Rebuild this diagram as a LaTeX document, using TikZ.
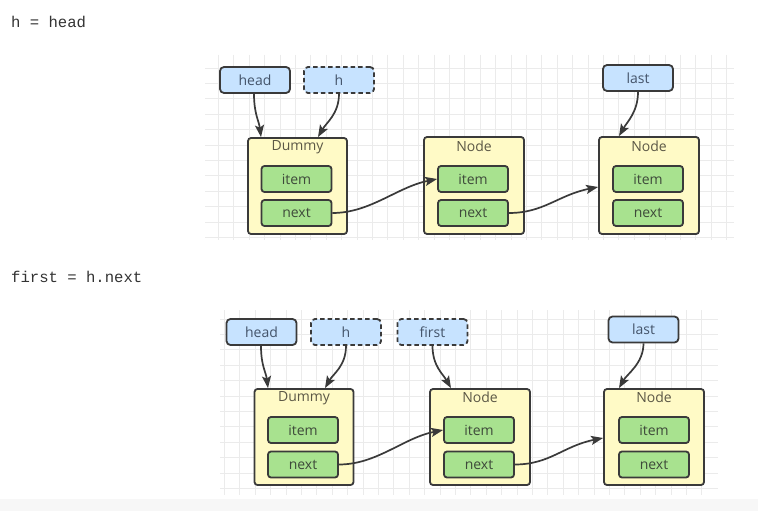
\documentclass[tikz,border=0pt]{standalone}
\usepackage{fontspec}
\usetikzlibrary{arrows.meta}
\newfontfamily\labfont{Open Sans}
\newfontfamily\codefont{Liberation Mono}
\definecolor{ptrfill}{HTML}{C7E3FF}
\definecolor{boxfill}{HTML}{FFFAC6}
\definecolor{fieldfill}{HTML}{A8E28F}
\definecolor{edge}{HTML}{3A3A3A}
\definecolor{gridc}{HTML}{EBEBEB}
\definecolor{ptrtext}{HTML}{44546A}
\definecolor{fieldtext}{HTML}{3E4A3A}
\definecolor{boxtext}{HTML}{5C5846}
\definecolor{codetext}{HTML}{333333}
\tikzset{
  ptr/.style={draw=edge, line width=1.8pt, rounded corners=4pt, fill=ptrfill,
    minimum width=70pt, minimum height=26pt, inner sep=0pt,
    font=\labfont\fontsize{14}{16}\selectfont, text=ptrtext},
  ptrdash/.style={ptr, dash pattern=on 4.5pt off 3pt},
  listbox/.style={draw=edge, line width=1.8pt, rounded corners=3pt, fill=boxfill,
    minimum width=99pt, minimum height=96pt, inner sep=0pt},
  boxlabel/.style={font=\labfont\fontsize{14}{16}\selectfont, text=boxtext, inner sep=0pt, anchor=north},
  field/.style={draw=edge, line width=1.8pt, rounded corners=3pt, fill=fieldfill,
    minimum width=70pt, minimum height=26pt, inner sep=0pt,
    font=\labfont\fontsize{14}{16}\selectfont, text=fieldtext},
  link/.style={draw=edge, line width=1.7pt, -{Stealth[length=12pt,width=9pt,inset=2.5pt]}},
  code/.style={font=\codefont\fontsize{15.6}{18}\selectfont, text=codetext, anchor=west, inner sep=0pt},
  gridline/.style={draw=gridc, line width=0.6pt}
}
\begin{document}
\begin{tikzpicture}[x=1pt,y=-1pt]
\useasboundingbox (0,0) rectangle (758,511);
\fill[white] (0,0) rectangle (758,511);
\fill[black!3] (0,499) rectangle (758,511);
% grids
\foreach \xx in {0,...,33} {\draw[gridline] ({218.3+15.4*\xx},55) -- ({218.3+15.4*\xx},240);}
\foreach \yy in {0,...,11} {\draw[gridline] (205,{67.9+15.4*\yy}) -- (734,{67.9+15.4*\yy});}
\foreach \xx in {0,...,31} {\draw[gridline] ({224.3+15.4*\xx},310) -- ({224.3+15.4*\xx},495);}
\foreach \yy in {0,...,11} {\draw[gridline] (220,{318.9+15.4*\yy}) -- (718,{318.9+15.4*\yy});}

% code texts
\node[code] (c1) at (11,22) {h = head};
\node[code] (c2) at (11,277) {first = h.next};

% ---------- top panel ----------
\node[listbox] (d1) at (297.5,186) {};
\node[boxlabel] (d1l) at (297.5,140.5) {Dummy};
\node[field] (d1i) at (296.5,179) {item};
\node[field] (d1n) at (296.5,213) {next};

\node[listbox, minimum width=100pt, minimum height=97pt] (n1) at (474,185.5) {};
\node[boxlabel] (n1l) at (474,140.5) {Node};
\node[field] (n1i) at (473,179) {item};
\node[field] (n1n) at (473,213) {next};

\node[listbox, minimum width=100pt, minimum height=97pt] (m1) at (649,185.5) {};
\node[boxlabel] (m1l) at (649,140.5) {Node};
\node[field] (m1i) at (648,179) {item};
\node[field] (m1n) at (648,213) {next};

\node[ptr] (head1) at (255,80) {head};
\node[ptrdash] (h1) at (339,80) {h};
\node[ptr] (last1) at (638,78) {last};

\draw[link] ([xshift=-1pt]head1.south) .. controls +(0,20) and +(-2,-16) .. ([xshift=-36.5pt]d1.north);
\draw[link] (h1.south) .. controls +(0,20) and +(8,-14) .. ([xshift=20.5pt]d1.north);
\draw[link] (last1.south) .. controls +(0,20) and +(8,-14) .. ([xshift=-30pt]m1.north);
\draw[link] (d1n.east) .. controls +(38,0) and +(-40,8) .. (n1i.west);
\draw[link] (n1n.east) .. controls +(35,0) and +(-40,8) .. ([yshift=-1.5pt]m1.west);

% ---------- bottom panel ----------
\node[listbox] (d2) at (304,437) {};
\node[boxlabel] (d2l) at (304,391.5) {Dummy};
\node[field] (d2i) at (303,430) {item};
\node[field] (d2n) at (303,464.5) {next};

\node[listbox, minimum width=100pt] (n2) at (480,437) {};
\node[boxlabel] (n2l) at (480,391.5) {Node};
\node[field] (n2i) at (479,430) {item};
\node[field] (n2n) at (479,464.5) {next};

\node[listbox, minimum width=100pt] (m2) at (654,437) {};
\node[boxlabel] (m2l) at (654,391.5) {Node};
\node[field] (m2i) at (654,430) {item};
\node[field] (m2n) at (654,464.5) {next};

\node[ptr] (head2) at (261.5,332) {head};
\node[ptrdash] (h2) at (346,332) {h};
\node[ptrdash] (first2) at (432.5,332) {first};
\node[ptr] (last2) at (643.5,329.5) {last};

\draw[link] ([xshift=-0.5pt]head2.south) .. controls +(0,20) and +(-2,-16) .. ([xshift=-36pt]d2.north);
\draw[link] (h2.south) .. controls +(0,20) and +(8,-14) .. ([xshift=21pt]d2.north);
\draw[link] (first2.south) .. controls +(0,20) and +(-8,-14) .. ([xshift=-29pt]n2.north);
\draw[link] (last2.south) .. controls +(0,20) and +(8,-14) .. ([xshift=-35pt]m2.north);
\draw[link] (d2n.east) .. controls +(38,0) and +(-40,8) .. (n2i.west);
\draw[link] (n2n.east) .. controls +(35,0) and +(-40,8) .. ([yshift=-1pt]m2.west);
\end{tikzpicture}
\end{document}
